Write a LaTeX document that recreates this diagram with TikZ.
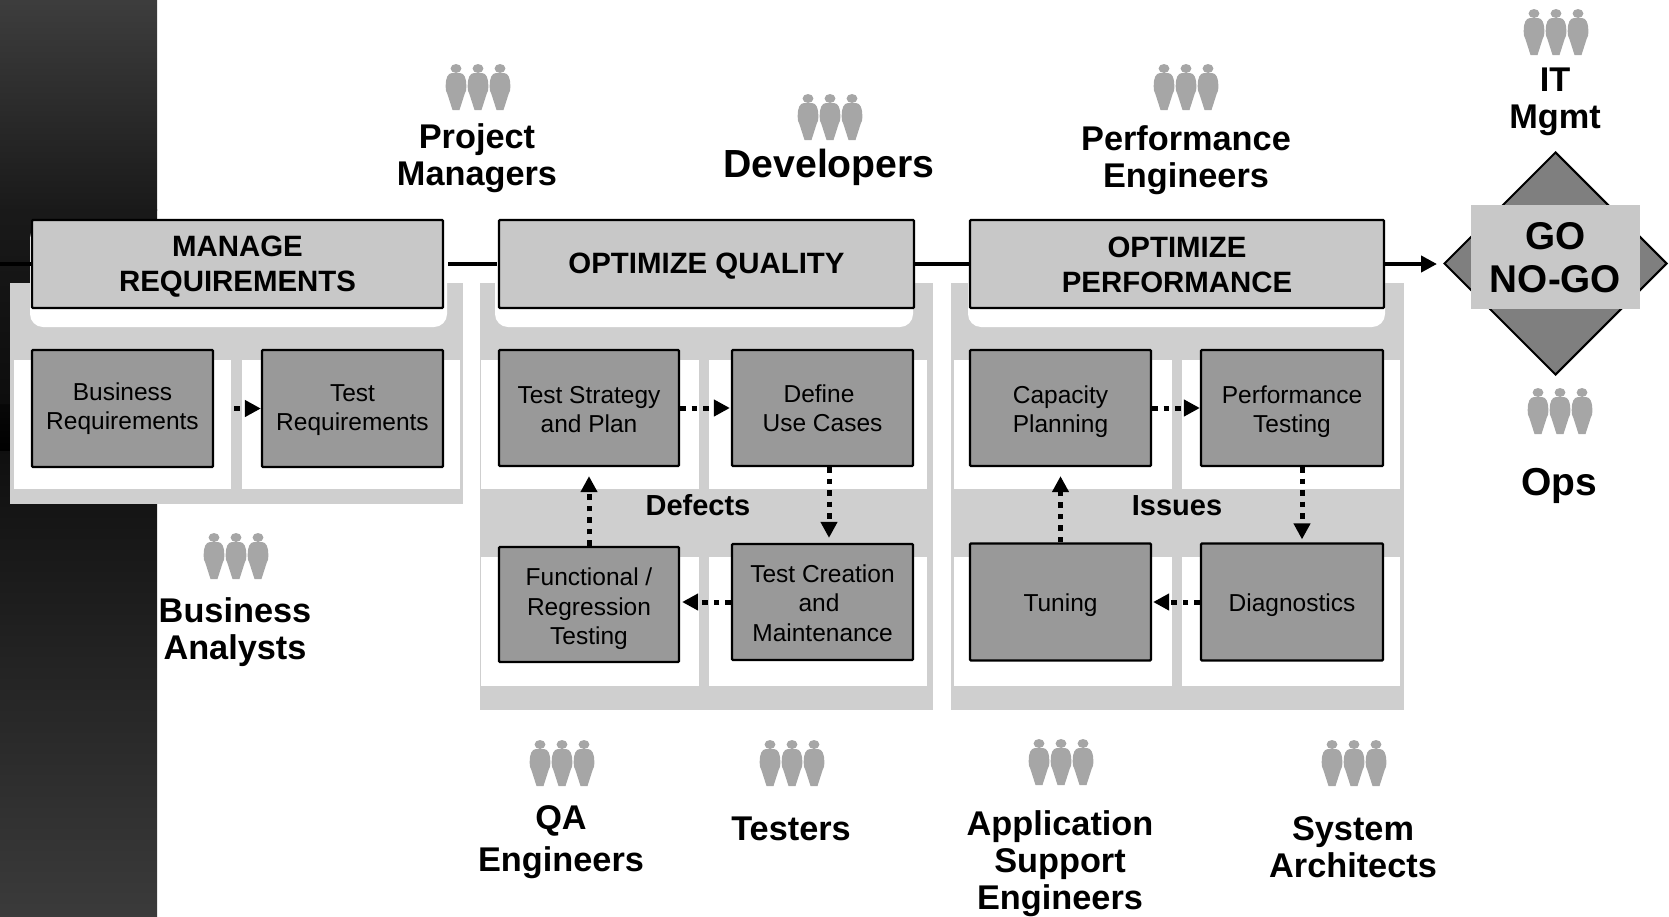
\documentclass[tikz,border=0pt]{standalone}
\usepackage{fontspec}
\setmainfont{Liberation Sans}
\usetikzlibrary{arrows.meta,shapes.geometric}
\definecolor{headfill}{HTML}{C8C8C8}
\definecolor{panelfill}{HTML}{CFCFCF}
\definecolor{boxfill}{HTML}{999999}
\definecolor{diafill}{HTML}{7F7F7F}
\definecolor{folkfill}{HTML}{A6A6A6}
\newcommand\lift[1]{\rule{0pt}{#1pt}}
\tikzset{
  x=1pt,y=-1pt,
  panel/.style={fill=panelfill,draw=none},
  cell/.style={fill=white,draw=none},
  headbox/.style={draw=black,line width=2.4pt,fill=headfill,rounded corners=1pt,minimum width=#1,minimum height=88pt,inner sep=0pt,align=center,font=\fontsize{29.4}{35}\selectfont\bfseries},
  stepbox/.style={draw=black,line width=2.2pt,fill=boxfill,rounded corners=1pt,minimum width=#1,inner sep=0pt,align=center,font=\fontsize{24.5}{29.3}\selectfont},
  link/.style={line width=4pt,draw=black},
  flow/.style={line width=5pt,draw=black,dash pattern=on 5.5pt off 6pt,-{Triangle[length=16pt,width=16pt]}},
  role/.style={align=center,inner sep=0pt,font=\fontsize{34.3}{#1}\selectfont\bfseries},
  role/.default=37,
  loop label/.style={inner sep=0pt,font=\fontsize{29}{35}\selectfont\bfseries},
  guy/.pic={
    \fill[folkfill] (0,6.5) ellipse[x radius=5.4,y radius=4.5];
    \fill[folkfill] (-4,11) .. controls (-8,11.5) and (-10.3,15) .. (-10.3,24)
      .. controls (-10.3,28) and (-10,30) .. (-8.6,32) -- (-3.5,48) -- (3.5,48) -- (8.6,32)
      .. controls (10,30) and (10.3,28) .. (10.3,24)
      .. controls (10.3,15) and (8,11.5) .. (4,11) -- cycle;
  },
  folks/.pic={
    \pic at (-22,0) {guy};
    \pic at (0,0) {guy};
    \pic at (22,0) {guy};
  }
}
\begin{document}
\begin{tikzpicture}
\useasboundingbox (0,0) rectangle (1669,916);
\clip (0,0) rectangle (1669,916);
% dark band
\fill[top color=black!76,bottom color=black!90,shading angle=0] (0,0) rectangle (157,210);
\fill[top color=black!90,bottom color=black!95] (0,209) rectangle (157,405);
\fill[top color=black!97,bottom color=black!100] (0,404) rectangle (157,452);
\fill[top color=black!94,bottom color=black!77] (0,451) rectangle (157,916);
% panels
\fill[panel] (10,283) rectangle (463,504);
\fill[panel] (480,283) rectangle (933,710);
\fill[panel] (951,283) rectangle (1404,710);
% white cells
\fill[cell] (14,360) rectangle (231,489);
\fill[cell] (242,360) rectangle (460,489);
\fill[cell] (481,360) rectangle (699,489);
\fill[cell] (709,360) rectangle (927,489);
\fill[cell] (481,557) rectangle (699,686);
\fill[cell] (709,557) rectangle (927,686);
\fill[cell] (954,360) rectangle (1172,489);
\fill[cell] (1182,360) rectangle (1400,489);
\fill[cell] (954,557) rectangle (1172,686);
\fill[cell] (1182,557) rectangle (1400,686);
\fill[cell,rounded corners=13pt] (30,225) -- (30,327) -- (447,327) -- (447,225) -- cycle;
\fill[cell,rounded corners=13pt] (495,225) -- (495,327) -- (913,327) -- (913,225) -- cycle;
\fill[cell,rounded corners=13pt] (968,225) -- (968,327) -- (1385,327) -- (1385,225) -- cycle;
% headers
\node[headbox=411pt] (h1) at (237.5,264) {\lift{25}MANAGE\\REQUIREMENTS};
\node[headbox=415pt] (h2) at (706.5,264) {\lift{25}OPTIMIZE QUALITY};
\node[headbox=414pt] (h3) at (1177,264) {\lift{21.5}OPTIMIZE\\PERFORMANCE};
% step boxes
\node[stepbox=181pt,minimum height=117pt] (br) at (122.5,408.5) {Business\\Requirements};
\node[stepbox=181pt,minimum height=117pt] (tr) at (352.5,408.5) {\lift{19.5}Test\\Requirements};
\node[stepbox=180pt,minimum height=116pt] (tsp) at (589,408) {\lift{20}Test Strategy\\and Plan};
\node[stepbox=181pt,minimum height=116pt] (duc) at (822.5,408) {Define\kern7pt\\Use Cases};
\node[stepbox=180pt,minimum height=115pt] (frt) at (589,604.5) {\lift{26.4}Functional /\\Regression\\Testing};
\node[stepbox=181pt,minimum height=116pt] (tcm) at (822.5,602) {\lift{20}Test Creation\\and\kern7pt\\Maintenance};
\node[stepbox=181pt,minimum height=116pt] (cap) at (1060.5,408) {\lift{24.4}Capacity\\Planning};
\node[stepbox=182pt,minimum height=116pt] (pft) at (1292,408) {\lift{24.4}Performance\\Testing};
\node[stepbox=181pt,minimum height=117pt] (tun) at (1060.5,602) {\lift{24.4}Tuning};
\node[stepbox=182pt,minimum height=117pt] (dia) at (1292,602) {\lift{24.4}Diagnostics};
% loop labels
\node[loop label] (defects) at (698,505) {Defects};
\node[loop label] (issues) at (1177,506) {Issues};
% decision
\node[diamond,aspect=1,draw=black,line width=2pt,fill=diafill,minimum width=223pt,minimum height=223pt,inner sep=0pt] (gate) at (1555.5,263.5) {};
\node[fill=headfill,minimum width=169pt,minimum height=104pt,inner sep=0pt,align=center,font=\fontsize{38.7}{43}\selectfont\bfseries] (go) at (1555.5,257) {\lift{29}GO\\NO-GO};
% main connectors
\coordinate (start) at (0,264);
\draw[link] (start) -- (h1.west);
\draw[link,shorten <=4pt,shorten >=1pt] (h1.east) -- (h2.west);
\draw[link] (h2.east) -- (h3.west);
\draw[link,-{Triangle[length=16pt,width=16pt]},shorten >=6pt] (h3.east) -- (h3.east -| gate.west);
% flow connectors
\draw[flow,shorten <=20pt] (br.east) -- (tr.west);
\draw[flow,shorten >=1pt] (tsp.east) -- (duc.west);
\draw[flow,shorten >=5pt] ([xshift=6.5pt]duc.south) -- ([xshift=6.5pt]tcm.north);
\draw[flow,shorten >=2pt] (tcm.west) -- (tcm.west -| frt.east);
\draw[flow,shorten >=9pt] (frt.north) -- (tsp.south);
\draw[flow,shorten >=0pt] (cap.east) -- (pft.west);
\draw[flow,shorten >=3pt] ([xshift=10pt]pft.south) -- ([xshift=10pt]dia.north);
\draw[flow,shorten >=1pt] (dia.west) -- (tun.east);
\draw[flow,shorten >=9pt] (tun.north) -- (cap.south);
% people
\pic at (478,62) {folks};
\pic at (830,92) {folks};
\pic at (1186,62) {folks};
\pic at (1556,7) {folks};
\pic at (1560,386) {folks};
\pic at (236,531) {folks};
\pic at (562,738) {folks};
\pic at (792,738) {folks};
\pic at (1061,737) {folks};
\pic at (1354,738) {folks};
% role labels
\node[role] (pm) at (477,156) {\lift{29}Project\\Managers};
\node[inner sep=0pt,font=\fontsize{39.2}{44}\selectfont\bfseries] (dev) at (829,167.5) {Developers};
\node[role] (pe) at (1186,160) {Performance\\Engineers};
\node[role] (it) at (1555,102) {IT\\Mgmt};
\node[inner sep=0pt,font=\fontsize{39}{44}\selectfont\bfseries] (ops) at (1559,486) {Ops};
\node[role] (ba) at (235,632) {Business\\Analysts};
\node[role=41.5] (qa) at (561,842) {QA\\Engineers};
\node[role] (te) at (791,829) {Testers};
\node[role] (as) at (1060,864) {Application\\Support\\Engineers};
\node[role] (sa) at (1353,847.5) {System\\Architects};
\end{tikzpicture}
\end{document}
